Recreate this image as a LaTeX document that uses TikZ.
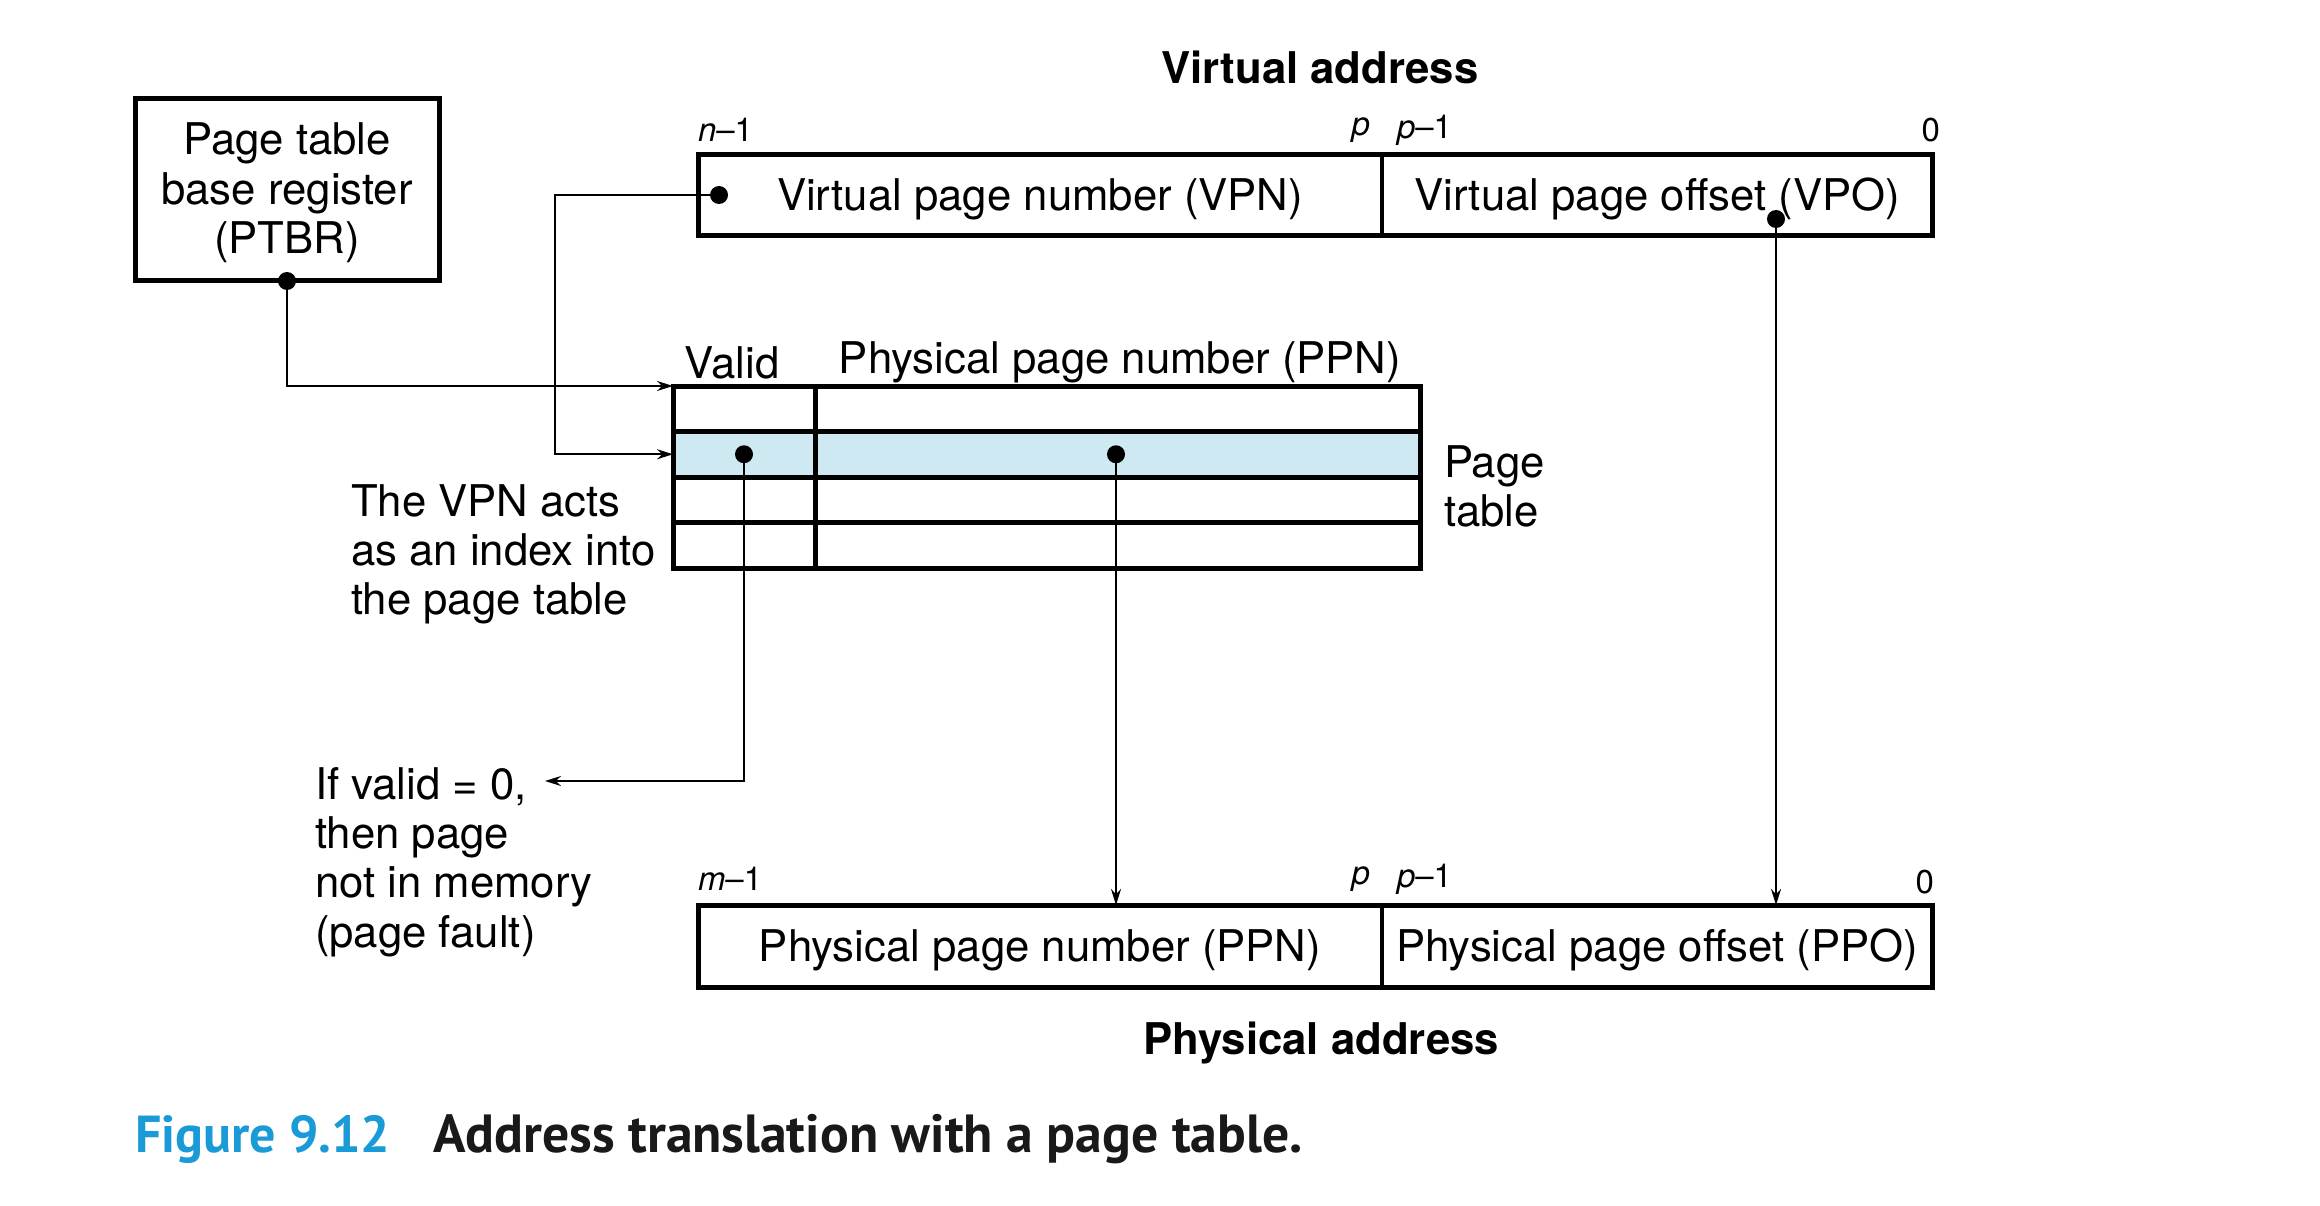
\documentclass[tikz,border=0pt]{standalone}
\usepackage{fontspec}
\setmainfont{TeX Gyre Heros}
\newfontfamily\capfont{PT Sans}
\usetikzlibrary{arrows.meta}
\definecolor{rowblue}{HTML}{CFE9F2}
\definecolor{capblue}{HTML}{1A9AD6}
\begin{document}
\begin{tikzpicture}[x=1pt,y=-1pt,
  every node/.style={inner sep=0pt, outer sep=0pt},
  txt/.style={font=\fontsize{43.7}{49.3}\selectfont},
  field/.style={draw, line width=4.5pt, txt, minimum height=81pt, text height=31.5pt, text depth=0pt},
  cell/.style={draw, line width=5pt, minimum height=45.5pt},
  small/.style={font=\fontsize{33}{38}\selectfont},
  boldlbl/.style={font=\fontsize{43.7}{49}\selectfont\bfseries},
  dot/.style={circle, fill=black, minimum size=18pt},
  conn/.style={line width=2pt},
  arr/.style={conn, -{Stealth[length=16pt,width=10pt]}}
]
\path[use as bounding box] (0,0) rectangle (2320,1206);

% PTBR
\node[draw, line width=5pt, minimum width=304pt, minimum height=182pt] (ptbr) at (287,190) {};
\node[txt, align=center] (ptbrtxt) at (287,193) {Page table\\base register\\(PTBR)};

% Virtual address
\node[boldlbl] (va) at (1320,67) {Virtual address};
\node[field, minimum width=684pt] (vpn) at (1040,195) {Virtual page number (VPN)};
\node[field, minimum width=550pt] (vpo) at (1657,195) {Virtual page offset (VPO)};
\draw[line width=5pt] (vpn.north west) rectangle (vpo.south east);
\node[small, anchor=west] (vn1) at (698,130) {\textit{n}–1};
\node[small, anchor=east] (vp) at (1370,130) {\textit{p}};
\node[small, anchor=west] (vp1) at (1397,130) {\textit{p}–1};
\node[small, anchor=east] (v0) at (1940,130) {0};

% Page table
\node[txt] (validlbl) at (732,363) {Valid};
\node[txt] (ppnlbl) at (1120,362) {Physical page number (PPN)};
\node[cell, minimum width=142pt] (v1) at (744,408.75) {};
\node[cell, minimum width=605pt] (p1) at (1117.5,408.75) {};
\node[cell, fill=rowblue, minimum width=142pt] (v2) at (744,454.25) {};
\node[cell, fill=rowblue, minimum width=605pt] (p2) at (1117.5,454.25) {};
\node[cell, minimum width=142pt] (v3) at (744,499.75) {};
\node[cell, minimum width=605pt] (p3) at (1117.5,499.75) {};
\node[cell, minimum width=142pt] (v4) at (744,545.25) {};
\node[cell, minimum width=605pt] (p4) at (1117.5,545.25) {};
\node[txt, align=left, anchor=west] (ptlbl) at (1444,486.5) {Page\\table};

% Notes
\node[txt, align=left, anchor=west] (vpnnote) at (351,554.5) {The VPN acts\\as an index into\\the page table};
\node[txt, align=left, anchor=west] (validnote) at (315,862) {If valid = 0,\\then page\\not in memory\\(page fault)};
\coordinate (ifv) at (545,781);

% Physical address
\node[field, minimum width=684pt, minimum height=82pt] (ppn) at (1040,946) {Physical page number (PPN)};
\node[field, minimum width=550pt, minimum height=82pt] (ppo) at (1657,946) {Physical page offset (PPO)};
\draw[line width=5pt] (ppn.north west) rectangle (ppo.south east);
\node[small, anchor=west] (pm1) at (698,879) {\textit{m}–1};
\node[small, anchor=east] (pp) at (1370,879) {\textit{p}};
\node[small, anchor=west] (pp1) at (1397,879) {\textit{p}–1};
\node[small, anchor=east] (p0) at (1934,882) {0};
\node[boldlbl] (pa) at (1321,1043) {Physical address};

% Dots
\node[dot] (dptbr) at (ptbr.south) {};
\node[dot] (dvpn) at (719,195) {};
\node[dot] (dvpo) at (1776,219) {};
\node[dot] (dv) at (v2.center) {};
\node[dot] (dp) at (1116,454.25) {};
\coordinate (bend) at (555,195);

% Connectors
\draw[arr] (dptbr.center) |- (v1.north west);
\draw[arr] (dvpn.center) -- (bend) |- (v2.west);
\draw[arr] (dv.center) |- (ifv);
\draw[arr] (dp.center) -- (dp.center |- ppn.north);
\draw[arr] (dvpo.center) -- (dvpo.center |- ppo.north);

% Caption
\node[anchor=base west, font=\capfont\bfseries\fontsize{52}{60}\selectfont, text=capblue] (fig) at (135,1152) {Figure 9.12};
\node[anchor=base west, font=\capfont\bfseries\fontsize{53.7}{60}\selectfont, text=black!90] (cap) at (433,1152) {Address translation with a page table.};
\end{tikzpicture}
\end{document}
